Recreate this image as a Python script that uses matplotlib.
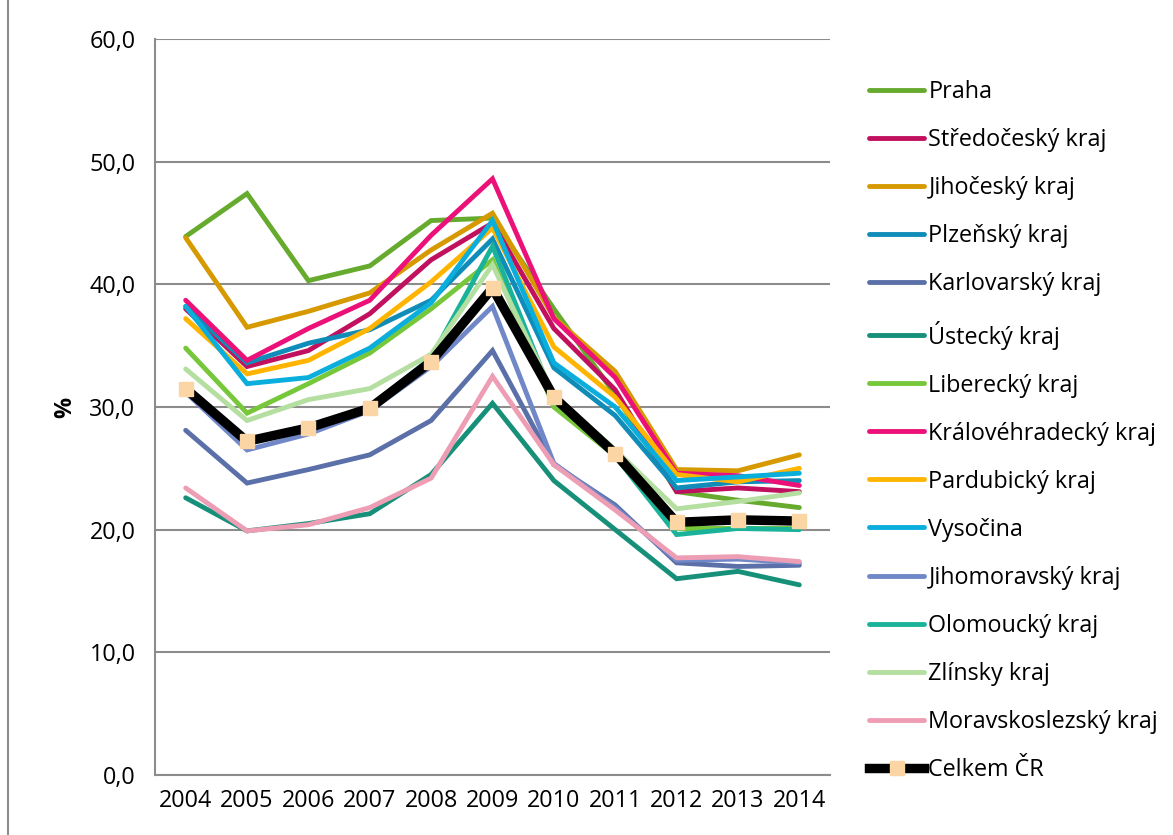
import matplotlib
matplotlib.use("Agg")
import matplotlib.pyplot as plt
from matplotlib.lines import Line2D

years = ["2004", "2005", "2006", "2007", "2008", "2009", "2010", "2011", "2012", "2013", "2014"]

praha = [43.9, 47.4, 40.3, 41.5, 45.2, 45.4, 38.0, 31.0, 23.1, 22.4, 21.8]
stredocesky = [38.0, 33.3, 34.6, 37.6, 42.0, 45.0, 36.4, 31.4, 23.1, 23.4, 23.1]
jihocesky = [43.8, 36.5, 37.8, 39.3, 42.8, 45.8, 37.3, 32.9, 24.9, 24.8, 26.1]
plzensky = [38.2, 33.6, 35.2, 36.3, 38.7, 43.7, 33.2, 29.3, 23.4, 23.9, 24.0]
karlovarsky = [28.1, 23.8, 24.9, 26.1, 28.9, 34.6, 25.3, 22.0, 17.3, 17.0, 17.1]
ustecky = [22.6, 19.9, 20.5, 21.3, 24.5, 30.3, 24.0, 20.0, 16.0, 16.6, 15.5]
liberecky = [34.8, 29.5, 31.9, 34.4, 38.0, 42.0, 30.0, 26.0, 20.1, 20.1, 20.1]
kralovehradecky = [38.7, 33.8, 36.4, 38.7, 44.0, 48.6, 37.2, 32.4, 24.6, 24.4, 23.6]
pardubicky = [37.2, 32.7, 33.8, 36.4, 40.2, 44.6, 34.9, 30.8, 24.5, 23.9, 25.0]
vysocina = [38.2, 31.9, 32.4, 34.8, 38.5, 45.2, 33.6, 30.0, 24.0, 24.3, 24.6]
jihomoravsky = [31.2, 26.5, 27.8, 29.7, 33.3, 38.2, 25.4, 21.8, 17.5, 17.6, 17.3]
olomoucky = [31.6, 27.3, 28.4, 30.0, 34.0, 43.1, 30.6, 26.0, 19.6, 20.1, 20.0]
zlinsky = [33.1, 28.9, 30.6, 31.5, 34.3, 41.6, 31.0, 26.5, 21.7, 22.3, 23.0]
moravskoslezsky = [23.4, 19.9, 20.4, 21.8, 24.2, 32.5, 25.3, 21.6, 17.7, 17.8, 17.4]
celkem = [31.5, 27.2, 28.3, 29.9, 33.7, 39.7, 30.8, 26.2, 20.6, 20.8, 20.7]

series = [
    ("Praha", praha, "#66AA2E"),
    ("Středočeský kraj", stredocesky, "#C0105E"),
    ("Jihočeský kraj", jihocesky, "#D69A00"),
    ("Plzeňský kraj", plzensky, "#0F8DB8"),
    ("Karlovarský kraj", karlovarsky, "#5B70A8"),
    ("Ústecký kraj", ustecky, "#17907A"),
    ("Liberecký kraj", liberecky, "#76C83A"),
    ("Královéhradecký kraj", kralovehradecky, "#EC1178"),
    ("Pardubický kraj", pardubicky, "#FFB400"),
    ("Vysočina", vysocina, "#0AAEDC"),
    ("Jihomoravský kraj", jihomoravsky, "#7088C8"),
    ("Olomoucký kraj", olomoucky, "#1AB39A"),
    ("Zlínsky kraj", zlinsky, "#B4DFA0"),
    ("Moravskoslezský kraj", moravskoslezsky, "#EE9EB4"),
]

plt.rcParams['font.family'] = ['Open Sans', 'DejaVu Sans']
FS = 16.8

W, H = 1173, 835
fig = plt.figure(figsize=(W / 100, H / 100), dpi=100)
ax = fig.add_axes([155 / W, 1 - 775 / H, (830 - 155) / W, (775 - 39) / H])

x = list(range(len(years)))
handles = []
for name, vals, col in series:
    ln, = ax.plot(x, vals, color=col, lw=3.5, solid_capstyle='round', solid_joinstyle='miter', label=name)
    handles.append(ln)
ln, = ax.plot(x, celkem, color='black', lw=6.8, marker='s', markersize=10,
              markerfacecolor='#FCD5A5', markeredgecolor='#FCD5A5', label='Celkem ČR')
handles.append(ln)

ax.set_xlim(-0.5, len(years) - 0.5)
ax.set_ylim(0, 60)
ax.set_yticks([0, 10, 20, 30, 40, 50, 60])
ax.set_yticklabels([f"{v:.1f}".replace('.', ',') for v in [0, 10, 20, 30, 40, 50, 60]])
ax.set_xticks(x)
ax.set_xticklabels(years)
ax.tick_params(axis='both', length=0, labelsize=FS, colors='black')
ax.tick_params(axis='y', pad=14)
ax.tick_params(axis='x', pad=10)
ax.grid(axis='y', color='#8C8C8C', lw=1.5)
ax.set_axisbelow(True)
for s in ['top', 'right']:
    ax.spines[s].set_visible(False)
for s in ['left', 'bottom']:
    ax.spines[s].set_color('#8C8C8C')
    ax.spines[s].set_linewidth(1.5)
ax.set_ylabel('%', fontsize=FS, fontweight='bold', labelpad=9)

leg = fig.legend(handles=handles, loc='upper left', bbox_to_anchor=(860 / W, 1 - 71 / H),
                 frameon=False, fontsize=FS, handlelength=2.36, handletextpad=0.17,
                 labelspacing=1.03, borderaxespad=0)

fig.add_artist(Line2D([8 / W, 8 / W], [0, 1], transform=fig.transFigure, color='#8C8C8C', lw=1.5))

fig.savefig('out.png', dpi=100)
